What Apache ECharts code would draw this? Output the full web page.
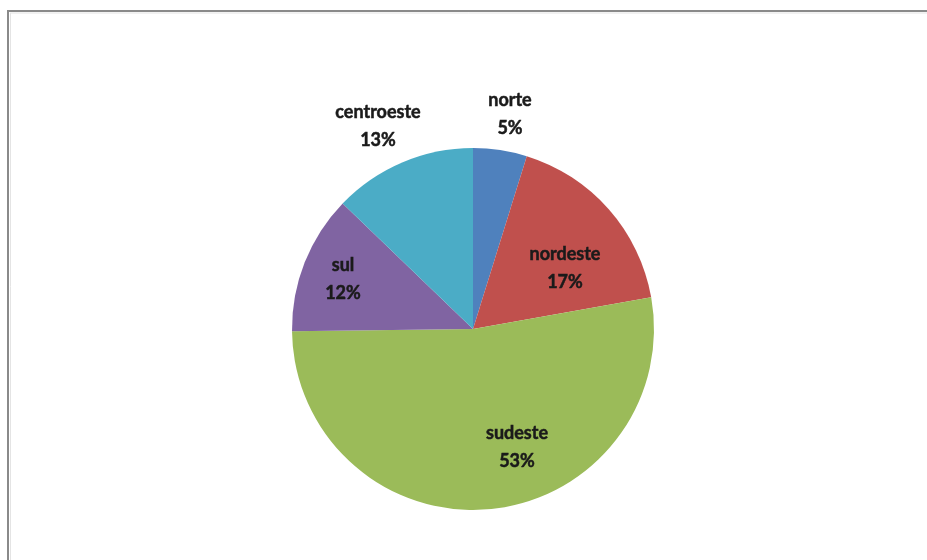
<!DOCTYPE html>
<html><head><meta charset="utf-8">
<script src="https://cdn.jsdelivr.net/npm/echarts@6/dist/echarts.min.js"></script>
<style>html,body{margin:0;padding:0;background:#fff}#c{width:927px;height:560px}</style>
</head><body><div id="c"></div>
<script>
const categories = ['norte', 'nordeste', 'sudeste', 'sul', 'centroeste'];
const values = [4.8, 17.4, 52.6, 12.4, 12.8];
const colors = ['#4F81BD', '#C0504D', '#9BBB59', '#8064A2', '#4BACC6'];
// label anchor offsets from pie centre (px)
const labelPos = [[37, -215], [92, -61], [44, 118], [-130, -50], [-95, -203]];
const cx = 473, cy = 329, R = 181;

const chart = echarts.init(document.getElementById('c'), null, {renderer: 'canvas'});
chart.setOption({
  backgroundColor: '#ffffff',
  animation: false,
  graphic: [
    {type: 'line', shape: {x1: 8, y1: 11, x2: 927, y2: 11}, style: {stroke: '#8a8a8a', lineWidth: 2}},
    {type: 'line', shape: {x1: 8, y1: 10, x2: 8, y2: 560}, style: {stroke: '#8a8a8a', lineWidth: 2}},
    {type: 'line', shape: {x1: 10, y1: 13, x2: 927, y2: 13}, style: {stroke: '#e4e4e4', lineWidth: 1}},
    {type: 'line', shape: {x1: 10.5, y1: 13, x2: 10.5, y2: 560}, style: {stroke: '#e4e4e4', lineWidth: 1}}
  ],
  series: [{
    type: 'pie',
    center: [cx, cy],
    radius: [0, R],
    startAngle: 90,
    clockwise: true,
    data: categories.map((n, i) => ({name: n, value: values[i], itemStyle: {color: colors[i]}})),
    itemStyle: {borderWidth: 0},
    label: {
      show: true,
      position: 'inside',
      formatter: p => p.name + '\n' + Math.round(p.percent) + '%',
      fontFamily: 'Lato, "Open Sans", sans-serif',
      fontWeight: 'bold',
      fontSize: 18,
      lineHeight: 28,
      color: '#1a1a1a',
      textBorderColor: '#1a1a1a',
      textBorderWidth: 0.5,
      align: 'center'
    },
    labelLine: {show: false},
    labelLayout: function (params) {
      const p = labelPos[params.dataIndex];
      return {x: cx + p[0], y: cy + p[1], align: 'center', verticalAlign: 'middle'};
    },
    emphasis: {disabled: true}
  }]
});
</script></body></html>
